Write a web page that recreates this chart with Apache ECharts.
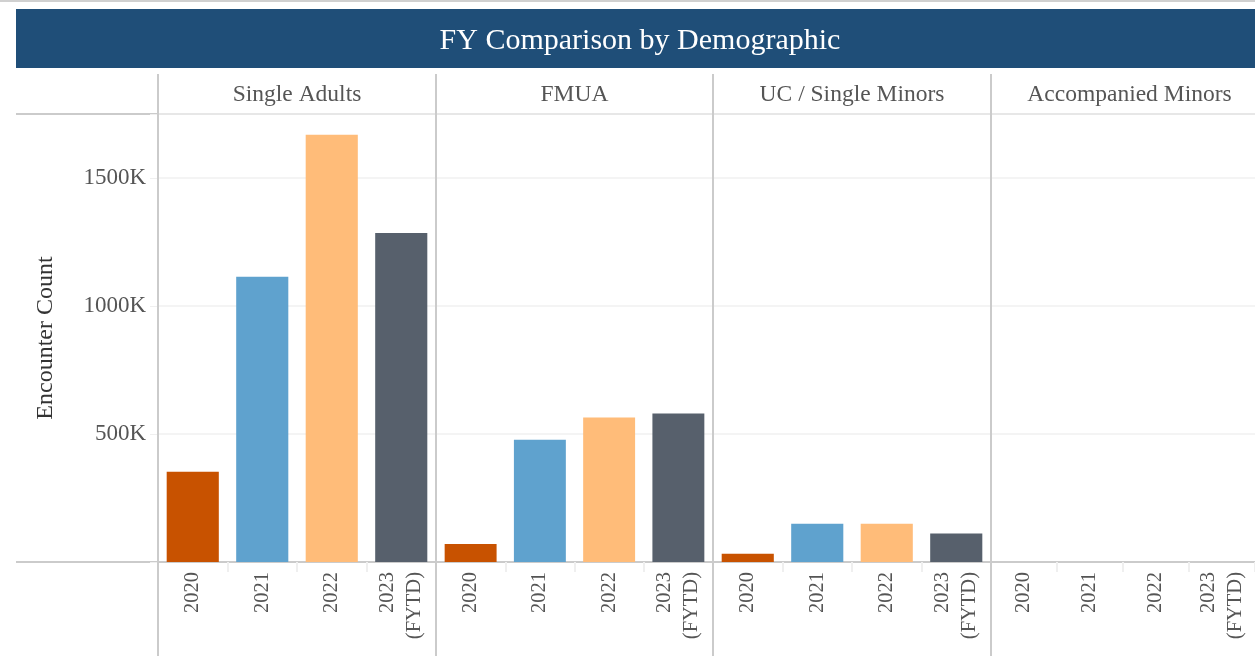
<!DOCTYPE html>
<html>
<head>
<meta charset="utf-8">
<title>FY Comparison by Demographic</title>
<script src="https://cdn.jsdelivr.net/npm/echarts@6/dist/echarts.min.js"></script>
<style>
  html, body { margin: 0; padding: 0; background: #fff; }
  #chart { width: 1255px; height: 656px; }
</style>
</head>
<body>
<div id="chart"></div>
<script>
// data (values in thousands)
var years = ['2020', '2021', '2022', '2023\n(FYTD)'];
var groups = ['Single Adults', 'FMUA', 'UC / Single Minors', 'Accompanied Minors'];
var singleAdults = [353, 1114, 1669, 1285];
var fmua = [70, 478, 564, 580];
var ucMinors = [32, 149, 149, 111];
var accompanied = [0, 0, 0, 0];
var yearColors = ['#c85200', '#5fa2ce', '#ffbc79', '#57606c'];
var yTicks = [500, 1000, 1500];

var values = [singleAdults, fmua, ucMinors, accompanied];
var panelLeft = [158, 436, 713, 991];
var panelWidth = [278, 277, 278, 277];
var font = '"Liberation Serif", "Times New Roman", serif';
var lineColor = '#cbcbcb';

var chart = echarts.init(document.getElementById('chart'));

var grids = [], xAxes = [], yAxes = [], series = [];
for (var i = 0; i < groups.length; i++) {
	grids.push({ left: panelLeft[i], width: panelWidth[i], top: 114, bottom: 94, containLabel: false });
	xAxes.push({
		type: 'category',
		gridIndex: i,
		data: years,
		axisLine: { show: true, lineStyle: { color: lineColor, width: 2 } },
		axisTick: { show: true, length: 10, lineStyle: { color: '#efefef', width: 2 } },
		axisLabel: {
			rotate: 90, margin: 10, color: '#555', fontFamily: font, fontSize: 20.5, lineHeight: 27
		}
	});
	yAxes.push({
		type: 'value',
		gridIndex: i,
		min: 0,
		max: 1750,
		interval: 500,
		name: i === 0 ? 'Encounter Count' : '',
		nameLocation: 'middle',
		nameGap: 100,
		nameTextStyle: { color: '#333', fontFamily: font, fontSize: 24 },
		axisLine: { show: false },
		axisTick: { show: i === 0, length: 8, lineStyle: { color: '#efefef' } },
		axisLabel: {
			show: i === 0, margin: 12, color: '#555', fontFamily: font, fontSize: 23,
			formatter: function (v) { return yTicks.indexOf(v) >= 0 ? v + 'K' : ''; }
		},
		splitLine: { show: true, lineStyle: { color: '#f0f0f0', width: 1.5 } }
	});
	series.push({
		type: 'bar',
		xAxisIndex: i,
		yAxisIndex: i,
		barWidth: '75%',
		data: values[i].map(function (v, k) {
			return { value: v, itemStyle: { color: yearColors[k] } };
		})
	});
}

var graphics = [
	{ type: 'rect', shape: { x: 0, y: 0, width: 1255, height: 2 }, style: { fill: '#d0d0d0' } },
	{ type: 'rect', shape: { x: 16, y: 9, width: 1239, height: 59 }, style: { fill: '#1f4e78' } },
	{ type: 'text', x: 640, y: 41, style: { text: 'FY Comparison by Demographic', fill: '#fff', font: '30px ' + font, align: 'center', verticalAlign: 'middle' } },
	{ type: 'line', shape: { x1: 16, y1: 114, x2: 1255, y2: 114 }, style: { stroke: lineColor, lineWidth: 2 } },
	{ type: 'line', shape: { x1: 16, y1: 562, x2: 158, y2: 562 }, style: { stroke: lineColor, lineWidth: 2 } }
];
for (var j = 0; j < groups.length; j++) {
	graphics.push({ type: 'line', z: 10, shape: { x1: panelLeft[j], y1: 74, x2: panelLeft[j], y2: 656 }, style: { stroke: lineColor, lineWidth: 2 } });
	graphics.push({
		type: 'text', x: panelLeft[j] + panelWidth[j] / 2, y: 95,
		style: { text: groups[j], fill: '#555', font: '23.5px ' + font, align: 'center', verticalAlign: 'middle' }
	});
}

var option = {
	animation: false,
	textStyle: { fontFamily: font },
	grid: grids,
	xAxis: xAxes,
	yAxis: yAxes,
	series: series,
	graphic: graphics
};
chart.setOption(option);
</script>
</body>
</html>
